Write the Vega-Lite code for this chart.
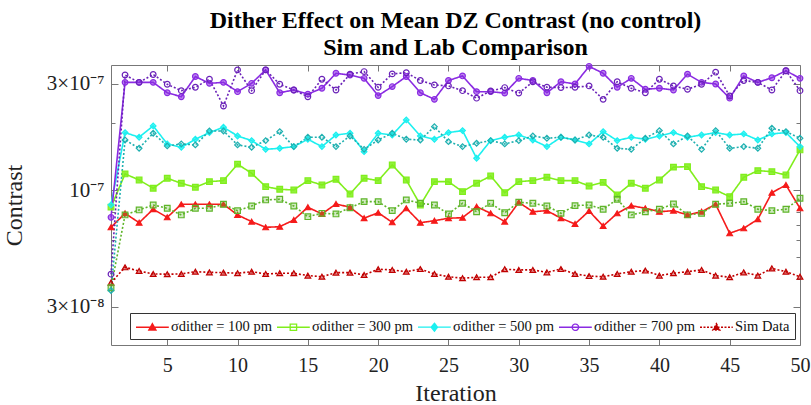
{
"$schema":"https://vega.github.io/schema/vega-lite/v6.json",
"width":689,"height":280,
"autosize":{"type":"none"},
"padding":{"left":111,"top":65,"right":11,"bottom":60},
"background":"white",
"config":{"font":"Liberation Serif","view":{"stroke":null}},
"title":{"text":["Dither Effect on Mean DZ Contrast (no control)","Sim and Lab Comparison"],"fontSize":24,"fontWeight":"bold","font":"Liberation Serif","color":"black","anchor":"middle","offset":1,"lineHeight":27},
"datasets":{"d":[
{"i":1,"s":"L100","v":6.82e-8},{"i":2,"s":"L100","v":7.88e-8},{"i":3,"s":"L100","v":7.15e-8},{"i":4,"s":"L100","v":8.22e-8},{"i":5,"s":"L100","v":7.56e-8},{"i":6,"s":"L100","v":8.65e-8},{"i":7,"s":"L100","v":8.65e-8},{"i":8,"s":"L100","v":8.65e-8},{"i":9,"s":"L100","v":8.65e-8},{"i":10,"s":"L100","v":7.75e-8},
{"i":11,"s":"L100","v":7.23e-8},{"i":12,"s":"L100","v":6.82e-8},{"i":13,"s":"L100","v":6.86e-8},{"i":14,"s":"L100","v":7.36e-8},{"i":15,"s":"L100","v":8.39e-8},{"i":16,"s":"L100","v":7.83e-8},{"i":17,"s":"L100","v":8.68e-8},{"i":18,"s":"L100","v":8.39e-8},{"i":19,"s":"L100","v":7.49e-8},{"i":20,"s":"L100","v":7.93e-8},
{"i":21,"s":"L100","v":7.18e-8},{"i":22,"s":"L100","v":8.30e-8},{"i":23,"s":"L100","v":7.15e-8},{"i":24,"s":"L100","v":7.30e-8},{"i":25,"s":"L100","v":7.49e-8},{"i":26,"s":"L100","v":7.53e-8},{"i":27,"s":"L100","v":8.44e-8},{"i":28,"s":"L100","v":7.88e-8},{"i":29,"s":"L100","v":7.23e-8},{"i":30,"s":"L100","v":8.83e-8},
{"i":31,"s":"L100","v":8.01e-8},{"i":32,"s":"L100","v":8.10e-8},{"i":33,"s":"L100","v":7.49e-8},{"i":34,"s":"L100","v":7.06e-8},{"i":35,"s":"L100","v":8.07e-8},{"i":36,"s":"L100","v":6.91e-8},{"i":37,"s":"L100","v":7.88e-8},{"i":38,"s":"L100","v":8.53e-8},{"i":39,"s":"L100","v":8.30e-8},{"i":40,"s":"L100","v":8.01e-8},
{"i":41,"s":"L100","v":8.10e-8},{"i":42,"s":"L100","v":7.75e-8},{"i":43,"s":"L100","v":8.01e-8},{"i":44,"s":"L100","v":8.65e-8},{"i":45,"s":"L100","v":6.41e-8},{"i":46,"s":"L100","v":6.75e-8},{"i":47,"s":"L100","v":7.41e-8},{"i":48,"s":"L100","v":9.75e-8},{"i":49,"s":"L100","v":1.056e-7},{"i":50,"s":"L100","v":8.30e-8},
{"i":1,"s":"S100","v":3.85e-8},{"i":2,"s":"S100","v":4.51e-8},{"i":3,"s":"S100","v":4.34e-8},{"i":4,"s":"S100","v":4.21e-8},{"i":5,"s":"S100","v":4.20e-8},{"i":6,"s":"S100","v":4.21e-8},{"i":7,"s":"S100","v":4.31e-8},{"i":8,"s":"S100","v":4.28e-8},{"i":9,"s":"S100","v":4.27e-8},{"i":10,"s":"S100","v":4.24e-8},
{"i":11,"s":"S100","v":4.31e-8},{"i":12,"s":"S100","v":4.21e-8},{"i":13,"s":"S100","v":4.24e-8},{"i":14,"s":"S100","v":4.24e-8},{"i":15,"s":"S100","v":4.14e-8},{"i":16,"s":"S100","v":4.09e-8},{"i":17,"s":"S100","v":4.27e-8},{"i":18,"s":"S100","v":4.27e-8},{"i":19,"s":"S100","v":4.17e-8},{"i":20,"s":"S100","v":4.42e-8},
{"i":21,"s":"S100","v":4.39e-8},{"i":22,"s":"S100","v":4.31e-8},{"i":23,"s":"S100","v":4.43e-8},{"i":24,"s":"S100","v":4.21e-8},{"i":25,"s":"S100","v":4.09e-8},{"i":26,"s":"S100","v":4.03e-8},{"i":27,"s":"S100","v":4.07e-8},{"i":28,"s":"S100","v":4.07e-8},{"i":29,"s":"S100","v":4.42e-8},{"i":30,"s":"S100","v":4.39e-8},
{"i":31,"s":"S100","v":4.39e-8},{"i":32,"s":"S100","v":4.28e-8},{"i":33,"s":"S100","v":4.43e-8},{"i":34,"s":"S100","v":4.21e-8},{"i":35,"s":"S100","v":4.12e-8},{"i":36,"s":"S100","v":4.09e-8},{"i":37,"s":"S100","v":4.21e-8},{"i":38,"s":"S100","v":4.31e-8},{"i":39,"s":"S100","v":4.36e-8},{"i":40,"s":"S100","v":4.14e-8},
{"i":41,"s":"S100","v":4.24e-8},{"i":42,"s":"S100","v":4.31e-8},{"i":43,"s":"S100","v":4.39e-8},{"i":44,"s":"S100","v":4.14e-8},{"i":45,"s":"S100","v":4.07e-8},{"i":46,"s":"S100","v":4.28e-8},{"i":47,"s":"S100","v":4.14e-8},{"i":48,"s":"S100","v":4.46e-8},{"i":49,"s":"S100","v":4.31e-8},{"i":50,"s":"S100","v":4.09e-8},
{"i":1,"s":"L300","v":8.4e-8},{"i":2,"s":"L300","v":1.184e-7},{"i":3,"s":"L300","v":1.112e-7},{"i":4,"s":"L300","v":1.021e-7},{"i":5,"s":"L300","v":1.132e-7},{"i":6,"s":"L300","v":1.075e-7},{"i":7,"s":"L300","v":1.032e-7},{"i":8,"s":"L300","v":1.093e-7},{"i":9,"s":"L300","v":1.105e-7},{"i":10,"s":"L300","v":1.31e-7},
{"i":11,"s":"L300","v":1.192e-7},{"i":12,"s":"L300","v":1.038e-7},{"i":13,"s":"L300","v":1.010e-7},{"i":14,"s":"L300","v":1.003e-7},{"i":15,"s":"L300","v":1.105e-7},{"i":16,"s":"L300","v":1.056e-7},{"i":17,"s":"L300","v":1.120e-7},{"i":18,"s":"L300","v":9.62e-8},{"i":19,"s":"L300","v":1.132e-7},{"i":20,"s":"L300","v":1.105e-7},
{"i":21,"s":"L300","v":1.299e-7},{"i":22,"s":"L300","v":1.112e-7},{"i":23,"s":"L300","v":8.59e-8},{"i":24,"s":"L300","v":1.093e-7},{"i":25,"s":"L300","v":1.093e-7},{"i":26,"s":"L300","v":9.86e-8},{"i":27,"s":"L300","v":1.075e-7},{"i":28,"s":"L300","v":1.159e-7},{"i":29,"s":"L300","v":9.75e-8},{"i":30,"s":"L300","v":1.093e-7},
{"i":31,"s":"L300","v":1.105e-7},{"i":32,"s":"L300","v":1.144e-7},{"i":33,"s":"L300","v":1.105e-7},{"i":34,"s":"L300","v":1.105e-7},{"i":35,"s":"L300","v":1.045e-7},{"i":36,"s":"L300","v":1.085e-7},{"i":37,"s":"L300","v":9.53e-8},{"i":38,"s":"L300","v":1.075e-7},{"i":39,"s":"L300","v":1.021e-7},{"i":40,"s":"L300","v":1.112e-7},
{"i":41,"s":"L300","v":1.270e-7},{"i":42,"s":"L300","v":1.276e-7},{"i":43,"s":"L300","v":1.038e-7},{"i":44,"s":"L300","v":1.003e-7},{"i":45,"s":"L300","v":9.36e-8},{"i":46,"s":"L300","v":1.144e-7},{"i":47,"s":"L300","v":1.225e-7},{"i":48,"s":"L300","v":1.212e-7},{"i":49,"s":"L300","v":1.171e-7},{"i":50,"s":"L300","v":1.517e-7},
{"i":1,"s":"S300","v":3.65e-8},{"i":2,"s":"S300","v":7.75e-8},{"i":3,"s":"S300","v":8.16e-8},{"i":4,"s":"S300","v":8.59e-8},{"i":5,"s":"S300","v":8.30e-8},{"i":6,"s":"S300","v":7.75e-8},{"i":7,"s":"S300","v":8.30e-8},{"i":8,"s":"S300","v":8.30e-8},{"i":9,"s":"S300","v":8.65e-8},{"i":10,"s":"S300","v":8.10e-8},
{"i":11,"s":"S300","v":8.50e-8},{"i":12,"s":"S300","v":9.05e-8},{"i":13,"s":"S300","v":9.11e-8},{"i":14,"s":"S300","v":8.50e-8},{"i":15,"s":"S300","v":7.61e-8},{"i":16,"s":"S300","v":7.88e-8},{"i":17,"s":"S300","v":7.83e-8},{"i":18,"s":"S300","v":8.35e-8},{"i":19,"s":"S300","v":8.89e-8},{"i":20,"s":"S300","v":8.89e-8},
{"i":21,"s":"S300","v":8.10e-8},{"i":22,"s":"S300","v":9.05e-8},{"i":23,"s":"S300","v":8.74e-8},{"i":24,"s":"S300","v":8.59e-8},{"i":25,"s":"S300","v":7.83e-8},{"i":26,"s":"S300","v":8.74e-8},{"i":27,"s":"S300","v":8.01e-8},{"i":28,"s":"S300","v":8.74e-8},{"i":29,"s":"S300","v":7.93e-8},{"i":30,"s":"S300","v":8.83e-8},
{"i":31,"s":"S300","v":8.74e-8},{"i":32,"s":"S300","v":8.50e-8},{"i":33,"s":"S300","v":7.88e-8},{"i":34,"s":"S300","v":8.53e-8},{"i":35,"s":"S300","v":8.59e-8},{"i":36,"s":"S300","v":8.22e-8},{"i":37,"s":"S300","v":9.11e-8},{"i":38,"s":"S300","v":7.75e-8},{"i":39,"s":"S300","v":8.01e-8},{"i":40,"s":"S300","v":8.22e-8},
{"i":41,"s":"S300","v":8.68e-8},{"i":42,"s":"S300","v":7.75e-8},{"i":43,"s":"S300","v":7.88e-8},{"i":44,"s":"S300","v":8.65e-8},{"i":45,"s":"S300","v":8.74e-8},{"i":46,"s":"S300","v":8.89e-8},{"i":47,"s":"S300","v":8.22e-8},{"i":48,"s":"S300","v":8.10e-8},{"i":49,"s":"S300","v":8.22e-8},{"i":50,"s":"S300","v":9.21e-8},
{"i":1,"s":"L500","v":8.6e-8},{"i":2,"s":"L500","v":1.815e-7},{"i":3,"s":"L500","v":1.730e-7},{"i":4,"s":"L500","v":1.944e-7},{"i":5,"s":"L500","v":1.614e-7},{"i":6,"s":"L500","v":1.559e-7},{"i":7,"s":"L500","v":1.694e-7},{"i":8,"s":"L500","v":1.815e-7},{"i":9,"s":"L500","v":1.918e-7},{"i":10,"s":"L500","v":1.753e-7},
{"i":11,"s":"L500","v":1.671e-7},{"i":12,"s":"L500","v":1.527e-7},{"i":13,"s":"L500","v":1.543e-7},{"i":14,"s":"L500","v":1.570e-7},{"i":15,"s":"L500","v":1.694e-7},{"i":16,"s":"L500","v":1.570e-7},{"i":17,"s":"L500","v":1.771e-7},{"i":18,"s":"L500","v":1.803e-7},{"i":19,"s":"L500","v":1.490e-7},{"i":20,"s":"L500","v":1.803e-7},
{"i":21,"s":"L500","v":1.771e-7},{"i":22,"s":"L500","v":2.069e-7},{"i":23,"s":"L500","v":1.753e-7},{"i":24,"s":"L500","v":1.694e-7},{"i":25,"s":"L500","v":1.815e-7},{"i":26,"s":"L500","v":1.853e-7},{"i":27,"s":"L500","v":1.392e-7},{"i":28,"s":"L500","v":1.671e-7},{"i":29,"s":"L500","v":1.730e-7},{"i":30,"s":"L500","v":1.771e-7},
{"i":31,"s":"L500","v":1.682e-7},{"i":32,"s":"L500","v":1.570e-7},{"i":33,"s":"L500","v":1.730e-7},{"i":34,"s":"L500","v":1.682e-7},{"i":35,"s":"L500","v":1.614e-7},{"i":36,"s":"L500","v":1.834e-7},{"i":37,"s":"L500","v":1.671e-7},{"i":38,"s":"L500","v":1.730e-7},{"i":39,"s":"L500","v":1.694e-7},{"i":40,"s":"L500","v":1.753e-7},
{"i":41,"s":"L500","v":1.815e-7},{"i":42,"s":"L500","v":1.730e-7},{"i":43,"s":"L500","v":1.771e-7},{"i":44,"s":"L500","v":1.815e-7},{"i":45,"s":"L500","v":1.771e-7},{"i":46,"s":"L500","v":1.790e-7},{"i":47,"s":"L500","v":1.682e-7},{"i":48,"s":"L500","v":1.790e-7},{"i":49,"s":"L500","v":1.815e-7},{"i":50,"s":"L500","v":1.570e-7},
{"i":1,"s":"S500","v":3.55e-8},{"i":2,"s":"S500","v":1.682e-7},{"i":3,"s":"S500","v":1.543e-7},{"i":4,"s":"S500","v":1.803e-7},{"i":5,"s":"S500","v":1.581e-7},{"i":6,"s":"S500","v":1.614e-7},{"i":7,"s":"S500","v":1.598e-7},{"i":8,"s":"S500","v":1.846e-7},{"i":9,"s":"S500","v":1.846e-7},{"i":10,"s":"S500","v":1.598e-7},
{"i":11,"s":"S500","v":1.559e-7},{"i":12,"s":"S500","v":1.671e-7},{"i":13,"s":"S500","v":1.834e-7},{"i":14,"s":"S500","v":1.570e-7},{"i":15,"s":"S500","v":1.730e-7},{"i":16,"s":"S500","v":1.730e-7},{"i":17,"s":"S500","v":1.570e-7},{"i":18,"s":"S500","v":1.753e-7},{"i":19,"s":"S500","v":1.527e-7},{"i":20,"s":"S500","v":1.682e-7},
{"i":21,"s":"S500","v":1.803e-7},{"i":22,"s":"S500","v":1.694e-7},{"i":23,"s":"S500","v":1.682e-7},{"i":24,"s":"S500","v":1.930e-7},{"i":25,"s":"S500","v":1.653e-7},{"i":26,"s":"S500","v":1.570e-7},{"i":27,"s":"S500","v":1.625e-7},{"i":28,"s":"S500","v":1.671e-7},{"i":29,"s":"S500","v":1.614e-7},{"i":30,"s":"S500","v":1.671e-7},
{"i":31,"s":"S500","v":1.753e-7},{"i":32,"s":"S500","v":1.712e-7},{"i":33,"s":"S500","v":1.730e-7},{"i":34,"s":"S500","v":1.682e-7},{"i":35,"s":"S500","v":1.771e-7},{"i":36,"s":"S500","v":1.730e-7},{"i":37,"s":"S500","v":1.543e-7},{"i":38,"s":"S500","v":1.527e-7},{"i":39,"s":"S500","v":1.712e-7},{"i":40,"s":"S500","v":1.853e-7},
{"i":41,"s":"S500","v":1.614e-7},{"i":42,"s":"S500","v":1.753e-7},{"i":43,"s":"S500","v":1.527e-7},{"i":44,"s":"S500","v":1.853e-7},{"i":45,"s":"S500","v":1.543e-7},{"i":46,"s":"S500","v":1.570e-7},{"i":47,"s":"S500","v":1.543e-7},{"i":48,"s":"S500","v":1.898e-7},{"i":49,"s":"S500","v":1.834e-7},{"i":50,"s":"S500","v":1.712e-7},
{"i":1,"s":"L700","v":7.56e-8},{"i":2,"s":"L700","v":3.05e-7},{"i":3,"s":"L700","v":3.05e-7},{"i":4,"s":"L700","v":3.05e-7},{"i":5,"s":"L700","v":2.74e-7},{"i":6,"s":"L700","v":2.63e-7},{"i":7,"s":"L700","v":3.24e-7},{"i":8,"s":"L700","v":3.02e-7},{"i":9,"s":"L700","v":3.05e-7},{"i":10,"s":"L700","v":2.77e-7},
{"i":11,"s":"L700","v":3.02e-7},{"i":12,"s":"L700","v":3.47e-7},{"i":13,"s":"L700","v":2.74e-7},{"i":14,"s":"L700","v":2.82e-7},{"i":15,"s":"L700","v":2.70e-7},{"i":16,"s":"L700","v":2.87e-7},{"i":17,"s":"L700","v":3.35e-7},{"i":18,"s":"L700","v":3.29e-7},{"i":19,"s":"L700","v":3.18e-7},{"i":20,"s":"L700","v":2.66e-7},
{"i":21,"s":"L700","v":2.92e-7},{"i":22,"s":"L700","v":3.24e-7},{"i":23,"s":"L700","v":2.74e-7},{"i":24,"s":"L700","v":2.56e-7},{"i":25,"s":"L700","v":3.11e-7},{"i":26,"s":"L700","v":3.26e-7},{"i":27,"s":"L700","v":2.77e-7},{"i":28,"s":"L700","v":2.77e-7},{"i":29,"s":"L700","v":2.73e-7},{"i":30,"s":"L700","v":3.18e-7},
{"i":31,"s":"L700","v":3.11e-7},{"i":32,"s":"L700","v":2.74e-7},{"i":33,"s":"L700","v":3.07e-7},{"i":34,"s":"L700","v":3.00e-7},{"i":35,"s":"L700","v":3.60e-7},{"i":36,"s":"L700","v":3.35e-7},{"i":37,"s":"L700","v":2.90e-7},{"i":38,"s":"L700","v":3.18e-7},{"i":39,"s":"L700","v":2.84e-7},{"i":40,"s":"L700","v":2.87e-7},
{"i":41,"s":"L700","v":2.82e-7},{"i":42,"s":"L700","v":3.32e-7},{"i":43,"s":"L700","v":3.05e-7},{"i":44,"s":"L700","v":3.00e-7},{"i":45,"s":"L700","v":2.59e-7},{"i":46,"s":"L700","v":3.26e-7},{"i":47,"s":"L700","v":3.05e-7},{"i":48,"s":"L700","v":3.20e-7},{"i":49,"s":"L700","v":3.44e-7},{"i":50,"s":"L700","v":3.18e-7},
{"i":1,"s":"S700","v":4.2e-8},{"i":2,"s":"S700","v":3.29e-7},{"i":3,"s":"S700","v":3.05e-7},{"i":4,"s":"S700","v":3.31e-7},{"i":5,"s":"S700","v":2.99e-7},{"i":6,"s":"S700","v":2.80e-7},{"i":7,"s":"S700","v":2.90e-7},{"i":8,"s":"S700","v":3.15e-7},{"i":9,"s":"S700","v":2.39e-7},{"i":10,"s":"S700","v":3.47e-7},
{"i":11,"s":"S700","v":2.80e-7},{"i":12,"s":"S700","v":3.47e-7},{"i":13,"s":"S700","v":2.99e-7},{"i":14,"s":"S700","v":2.82e-7},{"i":15,"s":"S700","v":2.63e-7},{"i":16,"s":"S700","v":3.15e-7},{"i":17,"s":"S700","v":2.82e-7},{"i":18,"s":"S700","v":3.32e-7},{"i":19,"s":"S700","v":3.41e-7},{"i":20,"s":"S700","v":2.90e-7},
{"i":21,"s":"S700","v":3.33e-7},{"i":22,"s":"S700","v":3.37e-7},{"i":23,"s":"S700","v":3.11e-7},{"i":24,"s":"S700","v":2.97e-7},{"i":25,"s":"S700","v":2.94e-7},{"i":26,"s":"S700","v":2.80e-7},{"i":27,"s":"S700","v":2.59e-7},{"i":28,"s":"S700","v":2.79e-7},{"i":29,"s":"S700","v":2.89e-7},{"i":30,"s":"S700","v":2.73e-7},
{"i":31,"s":"S700","v":3.07e-7},{"i":32,"s":"S700","v":2.90e-7},{"i":33,"s":"S700","v":2.89e-7},{"i":34,"s":"S700","v":2.90e-7},{"i":35,"s":"S700","v":2.94e-7},{"i":36,"s":"S700","v":2.56e-7},{"i":37,"s":"S700","v":3.07e-7},{"i":38,"s":"S700","v":2.87e-7},{"i":39,"s":"S700","v":2.74e-7},{"i":40,"s":"S700","v":3.15e-7},
{"i":41,"s":"S700","v":2.94e-7},{"i":42,"s":"S700","v":2.84e-7},{"i":43,"s":"S700","v":2.99e-7},{"i":44,"s":"S700","v":3.39e-7},{"i":45,"s":"S700","v":2.65e-7},{"i":46,"s":"S700","v":3.11e-7},{"i":47,"s":"S700","v":3.05e-7},{"i":48,"s":"S700","v":2.82e-7},{"i":49,"s":"S700","v":3.44e-7},{"i":50,"s":"S700","v":2.80e-7}
]},
"data":{"name":"d"},
"resolve":{"axis":{"x":"independent","y":"independent"},"scale":{"shape":"independent","fill":"independent","stroke":"independent","strokeDash":"independent"}},
"layer":[
{"mark":{"type":"line","strokeWidth":1.6},
 "encoding":{
  "x":{"field":"i","type":"quantitative","scale":{"domain":[1,50],"nice":false,"zero":false},
   "axis":{"orient":"bottom","values":[5,10,15,20,25,30,35,40,45,50],"title":"Iteration","titleFont":"Liberation Serif","titleFontSize":24,"titleFontWeight":"normal","titleColor":"#222","titlePadding":6,"labelFont":"Liberation Serif","labelFontSize":20,"labelColor":"#222","labelPadding":16,"tickSize":-6,"tickColor":"#777","domainColor":"#777","grid":false,"labelFlush":false,"labelOverlap":false}},
  "y":{"field":"v","type":"quantitative","scale":{"type":"log","domain":[2.02e-8,3.65e-7],"nice":false},
   "axis":{"orient":"left","values":[3e-8,4e-8,5e-8,6e-8,7e-8,8e-8,9e-8,1e-7,2e-7,3e-7],"labelExpr":"datum.value == 3e-8 ? '3×10⁻⁸' : datum.value == 1e-7 ? '10⁻⁷' : datum.value == 3e-7 ? '3×10⁻⁷' : ''","title":"Contrast","titleFont":"Liberation Serif","titleFontSize":24,"titleFontWeight":"normal","titleColor":"#222","titlePadding":20,"labelFont":"Liberation Serif","labelFontSize":21,"labelColor":"#222","labelPadding":14,"tickSize":{"condition":{"test":"datum.value == 3e-8 || datum.value == 1e-7 || datum.value == 3e-7","value":-7},"value":-4},"tickColor":"#777","domainColor":"#777","grid":false,"labelOverlap":false}},
  "color":{"field":"s","type":"nominal","scale":{"domain":["L100","L300","L500","L700","S100","S300","S500","S700"],"range":["#F51B1B","#80EE1C","#1CF0F0","#8A2BE2","#C00000","#5FB52A","#1FB0B0","#6A22B8"]},"legend":null},
  "strokeDash":{"field":"s","type":"nominal","scale":{"domain":["L100","L300","L500","L700","S100","S300","S500","S700"],"range":[[1,0],[1,0],[1,0],[1,0],[2,2],[2,2],[2,2],[2,2]]},"legend":null}
 }},
{"mark":{"type":"point","size":32,"strokeWidth":1.2,"opacity":1},
 "encoding":{
  "x":{"field":"i","type":"quantitative","scale":{"domain":[1,50],"nice":false,"zero":false},"axis":null},
  "y":{"field":"v","type":"quantitative","scale":{"type":"log","domain":[2.02e-8,3.65e-7],"nice":false},"axis":null},
  "shape":{"field":"s","type":"nominal","scale":{"domain":["L100","L300","L500","L700","S100","S300","S500","S700"],"range":["triangle-up","square","diamond","circle","triangle-up","square","diamond","circle"]},"legend":null},
  "stroke":{"field":"s","type":"nominal","scale":{"domain":["L100","L300","L500","L700","S100","S300","S500","S700"],"range":["#F51B1B","#80EE1C","#1CF0F0","#8A2BE2","#C00000","#5FB52A","#1FB0B0","#6A22B8"]},"legend":null},
  "fill":{"field":"s","type":"nominal","scale":{"domain":["L100","L300","L500","L700","S100","S300","S500","S700"],"range":["#F51B1B","#80EE1C","#1CF0F0","#8A2BE2","#C00000","#5FB52A","#1FB0B0","#6A22B8"]},"legend":null},
  "fillOpacity":{"field":"s","type":"nominal","scale":{"domain":["L100","L300","L500","L700","S100","S300","S500","S700"],"range":[1,0,1,0,1,0.6,1,0]},"legend":null}
 }},
{"transform":[{"filter":"datum.i > 100"}],
 "mark":{"type":"point","filled":true,"strokeWidth":1.3,"opacity":1},
 "encoding":{
  "x":{"field":"i","type":"quantitative","scale":{"domain":[1,50],"nice":false,"zero":false},"axis":null},
  "y":{"field":"v","type":"quantitative","scale":{"type":"log","domain":[2.02e-8,3.65e-7],"nice":false},"axis":null},
  "shape":{"field":"s","type":"nominal","scale":{"domain":["L100","L300","L500","L700","S100"],"range":["M-1,0H3.1M1.05,-0.45L1.5,0.35H0.6Z","M-1,0H3.1M0.65,-0.4H1.45V0.4H0.65Z","M-1,0H3.1M1.05,-0.5L1.45,0L1.05,0.5L0.65,0Z","M-1,0H3.1M1.45,0A0.4,0.4 0 1,1 0.65,0A0.4,0.4 0 1,1 1.45,0Z","M-1,0H3.1M1.05,-0.45L1.5,0.35H0.6Z"]},
   "legend":{"values":["L100","L300","L500","L700","S100"],"orient":"none","legendX":19,"legendY":248,"direction":"horizontal","columns":5,"title":null,"symbolSize":256,"symbolStrokeWidth":1.3,"symbolOpacity":1,"labelFont":"Liberation Serif","labelFontSize":14.5,"labelColor":"#111","labelOffset":18,"columnPadding":2,"padding":5,"strokeColor":"#333","fillColor":"white","labelLimit":300,
    "labelExpr":"datum.value == 'L100' ? 'σdither = 100 pm' : datum.value == 'L300' ? 'σdither = 300 pm' : datum.value == 'L500' ? 'σdither = 500 pm' : datum.value == 'L700' ? 'σdither = 700 pm' : 'Sim Data'"}},
  "stroke":{"field":"s","type":"nominal","scale":{"domain":["L100","L300","L500","L700","S100"],"range":["#F51B1B","#80EE1C","#1CF0F0","#8A2BE2","#C00000"]}},
  "fill":{"field":"s","type":"nominal","scale":{"domain":["L100","L300","L500","L700","S100"],"range":["#F51B1B","transparent","#1CF0F0","transparent","#C00000"]}},
  "strokeDash":{"field":"s","type":"nominal","scale":{"domain":["L100","L300","L500","L700","S100"],"range":[[1,0],[1,0],[1,0],[1,0],[2,1.5]]}}
 }},
{"mark":{"type":"point","opacity":0},
 "encoding":{
  "x":{"field":"i","type":"quantitative","scale":{"domain":[1,50],"nice":false,"zero":false},
   "axis":{"orient":"top","values":[5,10,15,20,25,30,35,40,45,50],"labels":false,"title":null,"tickSize":-6,"tickColor":"#777","domainColor":"#777","grid":false}},
  "y":{"field":"v","type":"quantitative","scale":{"type":"log","domain":[2.02e-8,3.65e-7],"nice":false},
   "axis":{"orient":"right","values":[3e-8,4e-8,5e-8,6e-8,7e-8,8e-8,9e-8,1e-7,2e-7,3e-7],"labels":false,"title":null,"tickSize":{"condition":{"test":"datum.value == 3e-8 || datum.value == 1e-7 || datum.value == 3e-7","value":-7},"value":-4},"tickColor":"#777","domainColor":"#777","grid":false}}
 }}
]
}
